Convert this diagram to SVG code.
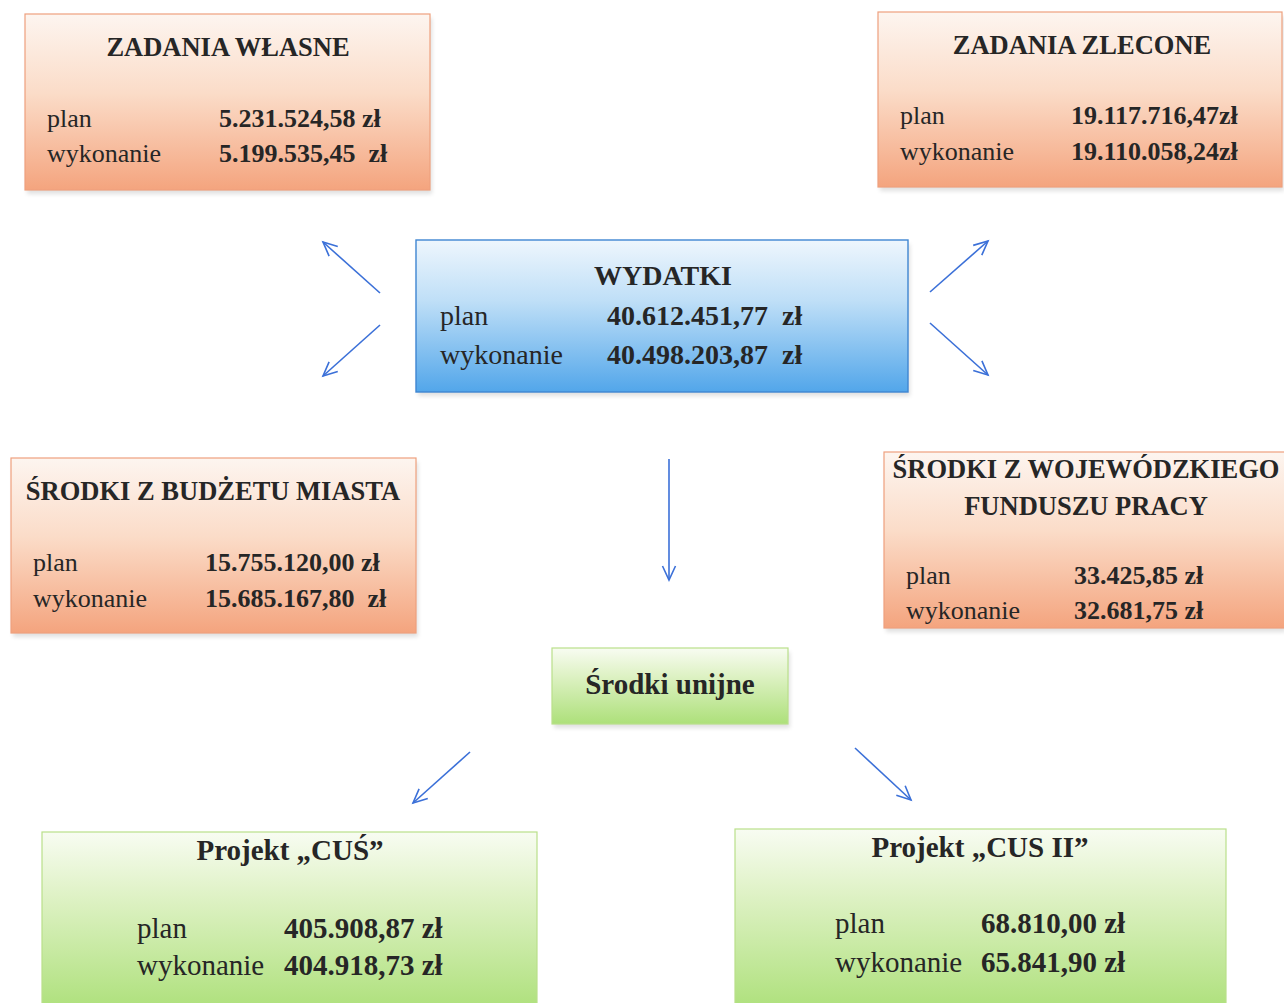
<svg xmlns="http://www.w3.org/2000/svg" width="1284" height="1003" viewBox="0 0 1284 1003">
<style>
.t{font-family:"Liberation Serif","Times New Roman",serif;fill:#262626}
.b{font-weight:bold}
.s26{font-size:26px}
.s265{font-size:26.5px}
.s28{font-size:28px}
.s29{font-size:29px}
.org{fill:url(#gOrange);stroke:#eea07e;stroke-width:1.2}
.blu{fill:url(#gBlue);stroke:#3f86d2;stroke-width:1.4}
.grn{fill:url(#gGreen);stroke:#b9e08a;stroke-width:1.2}
.sh{fill:#000;opacity:0.12;filter:url(#blur)}
.arr{stroke:#3b70d8;stroke-width:1.6;fill:none;marker-end:url(#ah)}
</style>
<defs>
<linearGradient id="gOrange" x1="0" y1="0" x2="0" y2="1">
<stop offset="0" stop-color="#fdf5f0"/>
<stop offset="0.45" stop-color="#fbdcc8"/>
<stop offset="1" stop-color="#f4a47e"/>
</linearGradient>
<linearGradient id="gBlue" x1="0" y1="0" x2="0" y2="1">
<stop offset="0" stop-color="#eef6fd"/>
<stop offset="0.4" stop-color="#bfdff7"/>
<stop offset="1" stop-color="#52a6ea"/>
</linearGradient>
<linearGradient id="gGreen" x1="0" y1="0" x2="0" y2="1">
<stop offset="0" stop-color="#f8fcf2"/>
<stop offset="0.35" stop-color="#dff2c6"/>
<stop offset="1" stop-color="#ade07a"/>
</linearGradient>
<filter id="blur" x="-5%" y="-5%" width="110%" height="120%"><feGaussianBlur stdDeviation="2"/></filter>
<marker id="ah" markerUnits="userSpaceOnUse" markerWidth="20" markerHeight="20" refX="16" refY="8" orient="auto">
<path d="M2,1.5 L16,8 L2,14.5" fill="none" stroke="#3b70d8" stroke-width="1.6"/>
</marker>
</defs>
<rect width="1284" height="1003" fill="#ffffff"/>

<g id="connectors">
<line class="arr" x1="380" y1="293" x2="323" y2="242"/>
<line class="arr" x1="380" y1="325" x2="323" y2="376"/>
<line class="arr" x1="930" y1="292" x2="988" y2="241"/>
<line class="arr" x1="930" y1="323" x2="988" y2="375"/>
<line class="arr" x1="669" y1="459" x2="669" y2="580"/>
<line class="arr" x1="470" y1="752" x2="413" y2="803"/>
<line class="arr" x1="855" y1="748" x2="911" y2="800"/>
</g>

<g id="zadania-wlasne">
<rect class="sh" x="27" y="18" width="405" height="176"/>
<rect class="org" x="25" y="14" width="405" height="176"/>
<text class="t b s265" x="228" y="56" text-anchor="middle">ZADANIA WŁASNE</text>
<text class="t s26" x="47" y="127">plan</text>
<text class="t b s26" x="219" y="127">5.231.524,58 zł</text>
<text class="t s26" x="47" y="162">wykonanie</text>
<text class="t b s26" x="219" y="162" xml:space="preserve">5.199.535,45  zł</text>
</g>

<g id="zadania-zlecone">
<rect class="sh" x="880" y="16" width="404" height="175"/>
<rect class="org" x="878" y="12" width="404" height="175"/>
<text class="t b s265" x="1082" y="54" text-anchor="middle">ZADANIA ZLECONE</text>
<text class="t s26" x="900" y="124">plan</text>
<text class="t b s26" x="1071" y="124">19.117.716,47zł</text>
<text class="t s26" x="900" y="160">wykonanie</text>
<text class="t b s26" x="1071" y="160">19.110.058,24zł</text>
</g>

<g id="wydatki">
<rect class="sh" x="418" y="244" width="492" height="152"/>
<rect class="blu" x="416" y="240" width="492" height="152"/>
<text class="t b s28" x="663" y="285" text-anchor="middle">WYDATKI</text>
<text class="t s28" x="440" y="325">plan</text>
<text class="t b s28" x="607" y="325" xml:space="preserve">40.612.451,77  zł</text>
<text class="t s28" x="440" y="364">wykonanie</text>
<text class="t b s28" x="607" y="364" xml:space="preserve">40.498.203,87  zł</text>
</g>

<g id="budzet-miasta">
<rect class="sh" x="13" y="462" width="405" height="175"/>
<rect class="org" x="11" y="458" width="405" height="175"/>
<text class="t b s265" x="213" y="500" text-anchor="middle">ŚRODKI Z BUDŻETU MIASTA</text>
<text class="t s26" x="33" y="571">plan</text>
<text class="t b s26" x="205" y="571">15.755.120,00 zł</text>
<text class="t s26" x="33" y="607">wykonanie</text>
<text class="t b s26" x="205" y="607" xml:space="preserve">15.685.167,80  zł</text>
</g>

<g id="wojewodzki-fundusz">
<rect class="sh" x="886" y="456" width="400" height="176"/>
<rect class="org" x="884" y="452" width="402" height="176"/>
<text class="t b s265" x="1086" y="478" text-anchor="middle">ŚRODKI Z WOJEWÓDZKIEGO</text>
<text class="t b s265" x="1086" y="515" text-anchor="middle">FUNDUSZU PRACY</text>
<text class="t s26" x="906" y="584">plan</text>
<text class="t b s26" x="1074" y="584">33.425,85 zł</text>
<text class="t s26" x="906" y="619">wykonanie</text>
<text class="t b s26" x="1074" y="619">32.681,75 zł</text>
</g>

<g id="srodki-unijne">
<rect class="sh" x="554" y="652" width="236" height="76"/>
<rect class="grn" x="552" y="648" width="236" height="76"/>
<text class="t b s29" x="670" y="694" text-anchor="middle">Środki unijne</text>
</g>

<g id="projekt-cus">
<rect class="grn" x="42" y="832" width="495" height="180"/>
<text class="t b s29" x="290" y="860" text-anchor="middle">Projekt „CUŚ”</text>
<text class="t s29" x="137" y="938">plan</text>
<text class="t b s29" x="284" y="938">405.908,87 zł</text>
<text class="t s29" x="137" y="975">wykonanie</text>
<text class="t b s29" x="284" y="975">404.918,73 zł</text>
</g>

<g id="projekt-cus-ii">
<rect class="grn" x="735" y="829" width="491" height="183"/>
<text class="t b s29" x="980" y="857" text-anchor="middle">Projekt „CUS II”</text>
<text class="t s29" x="835" y="933">plan</text>
<text class="t b s29" x="981" y="933">68.810,00 zł</text>
<text class="t s29" x="835" y="972">wykonanie</text>
<text class="t b s29" x="981" y="972">65.841,90 zł</text>
</g>
</svg>
